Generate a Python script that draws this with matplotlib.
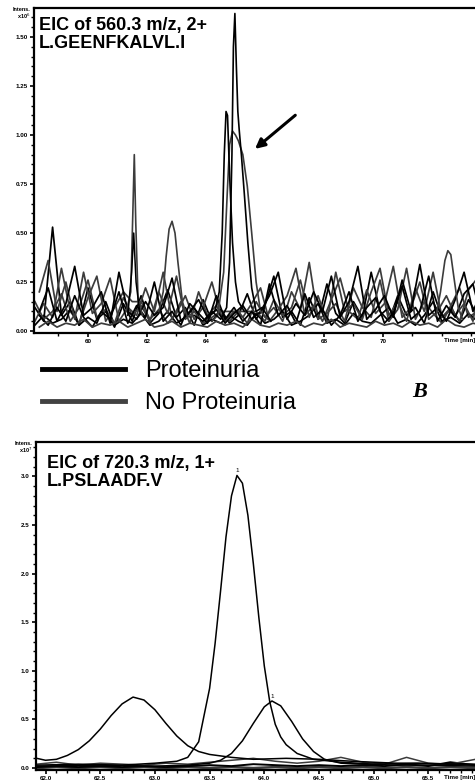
import matplotlib
matplotlib.use("Agg")
import matplotlib.pyplot as plt
from matplotlib.lines import Line2D
from matplotlib.ticker import MultipleLocator

tick_fs = 4.5
title_fs = 13
black = "#000000"
grey = "#3c3c3c"

# ---------- top panel: EIC 560.3 m/z ----------
grid_a = [58.2, 58.5, 58.8, 59.1, 59.4, 59.7, 60.0, 60.3, 60.6, 60.9,
          61.2, 61.5, 61.8, 62.1, 62.4, 62.7, 63.0, 63.3, 63.6, 63.9,
          64.2, 64.5, 64.8, 65.1, 65.4, 65.7, 66.0, 66.3, 66.6, 66.9,
          67.2, 67.5, 67.8, 68.1, 68.4, 68.7, 69.0, 69.3, 69.6, 69.9,
          70.2, 70.5, 70.8, 71.1, 71.4, 71.7, 72.0, 72.3, 72.6, 72.9, 73.2]
grid_b = [58.35, 58.65, 58.95, 59.25, 59.55, 59.85, 60.15, 60.45, 60.75, 61.05,
          61.35, 61.65, 61.95, 62.25, 62.55, 62.85, 63.15, 63.45, 63.75, 64.05,
          64.35, 64.65, 64.95, 65.25, 65.55, 65.85, 66.15, 66.45, 66.75, 67.05,
          67.35, 67.65, 67.95, 68.25, 68.55, 68.85, 69.15, 69.45, 69.75, 70.05,
          70.35, 70.65, 70.95, 71.25, 71.55, 71.85, 72.15, 72.45, 72.75, 73.05, 73.35]

n1 = [0.12, 0.05, 0.53, 0.08, 0.15, 0.03, 0.22, 0.06, 0.1, 0.02,
      0.14, 0.05, 0.18, 0.04, 0.09, 0.21, 0.07, 0.12, 0.03, 0.16,
      0.05, 0.11, 0.04, 0.08, 0.19, 0.06, 0.13, 0.28, 0.07, 0.1,
      0.03, 0.17, 0.06, 0.24, 0.09, 0.04, 0.15, 0.07, 0.3, 0.1,
      0.05, 0.18, 0.08, 0.12, 0.04, 0.2, 0.07, 0.11, 0.05, 0.16, 0.08]
n2 = [0.2, 0.36, 0.1, 0.25, 0.06, 0.3, 0.09, 0.14, 0.27, 0.05,
      0.12, 0.08, 0.22, 0.1, 0.3, 0.06, 0.15, 0.04, 0.2, 0.08,
      0.13, 0.05, 0.1, 0.07, 0.14, 0.22, 0.05, 0.11, 0.18, 0.32,
      0.08, 0.13, 0.05, 0.16, 0.27, 0.1, 0.06, 0.21, 0.09, 0.14,
      0.33, 0.07, 0.12, 0.25, 0.06, 0.1, 0.18, 0.08, 0.14, 0.05, 0.31]
n3 = [0.05, 0.14, 0.07, 0.32, 0.1, 0.04, 0.17, 0.28, 0.05, 0.12,
      0.2, 0.15, 0.15, 0.06, 0.11, 0.04, 0.09, 0.18, 0.06, 0.12,
      0.25, 0.08, 0.05, 0.1, 0.04, 0.15, 0.07, 0.12, 0.05, 0.2,
      0.11, 0.35, 0.06, 0.09, 0.14, 0.05, 0.22, 0.12, 0.07, 0.26,
      0.05, 0.11, 0.32, 0.06, 0.15, 0.09, 0.04, 0.13, 0.22, 0.07, 0.1]
n4 = [0.08, 0.03, 0.12, 0.05, 0.18, 0.07, 0.02, 0.1, 0.06, 0.2,
      0.04, 0.13, 0.07, 0.25, 0.05, 0.1, 0.03, 0.14, 0.09, 0.04,
      0.18, 0.06, 0.12, 0.05, 0.1, 0.03, 0.24, 0.08, 0.13, 0.04,
      0.19, 0.07, 0.11, 0.03, 0.08, 0.2, 0.05, 0.12, 0.17, 0.04,
      0.09, 0.23, 0.06, 0.1, 0.28, 0.05, 0.13, 0.07, 0.19, 0.24, 0.06]
n5 = [0.03, 0.08, 0.04, 0.06, 0.11, 0.03, 0.07, 0.04, 0.15, 0.03,
      0.06, 0.04, 0.09, 0.03, 0.05, 0.1, 0.04, 0.07, 0.12, 0.03,
      0.06, 0.04, 0.08, 0.05, 0.03, 0.09, 0.04, 0.06, 0.1, 0.03,
      0.05, 0.08, 0.14, 0.04, 0.06, 0.03, 0.09, 0.05, 0.04, 0.08,
      0.12, 0.04, 0.06, 0.03, 0.08, 0.15, 0.05, 0.07, 0.04, 0.09, 0.05]
n6 = [0.02, 0.05, 0.02, 0.04, 0.03, 0.06, 0.02, 0.04, 0.03, 0.05,
      0.02, 0.04, 0.06, 0.02, 0.03, 0.05, 0.02, 0.04, 0.03, 0.02,
      0.05, 0.03, 0.04, 0.02, 0.06, 0.03, 0.02, 0.04, 0.03, 0.05,
      0.02, 0.04, 0.03, 0.06, 0.02, 0.04, 0.03, 0.02, 0.05, 0.03,
      0.04, 0.02, 0.05, 0.03, 0.04, 0.02, 0.06, 0.03, 0.02, 0.04, 0.03]
n7 = [0.15, 0.06, 0.1, 0.19, 0.05, 0.12, 0.26, 0.07, 0.11, 0.04,
      0.17, 0.08, 0.13, 0.05, 0.2, 0.09, 0.28, 0.06, 0.1, 0.04,
      0.07, 0.1, 0.1, 0.1, 0.1, 0.1, 0.05, 0.16, 0.08, 0.12,
      0.26, 0.07, 0.18, 0.05, 0.3, 0.1, 0.14, 0.06, 0.2, 0.32,
      0.08, 0.15, 0.05, 0.22, 0.1, 0.3, 0.07, 0.12, 0.05, 0.21, 0.27]
n8 = [0.1, 0.22, 0.05, 0.14, 0.33, 0.08, 0.12, 0.2, 0.04, 0.3,
      0.1, 0.06, 0.15, 0.08, 0.12, 0.27, 0.05, 0.1, 0.16, 0.07,
      0.11, 0.04, 0.09, 0.13, 0.06, 0.1, 0.18, 0.3, 0.06, 0.14,
      0.08, 0.2, 0.1, 0.28, 0.07, 0.15, 0.33, 0.06, 0.11, 0.18,
      0.07, 0.26, 0.1, 0.34, 0.08, 0.12, 0.05, 0.16, 0.3, 0.1, 0.2]

# main peak traces around 65 min
p1_t = [63.6, 63.9, 64.2, 64.5, 64.7, 64.8, 64.88, 64.93, 64.98, 65.03,
        65.08, 65.13, 65.2, 65.3, 65.42, 65.55, 65.7, 65.9, 66.2]
p1_y = [0.08, 0.05, 0.1, 0.06, 0.12, 0.35, 0.9, 1.45, 1.62, 1.35,
        1.12, 1.02, 0.9, 0.7, 0.45, 0.22, 0.1, 0.12, 0.05]
p2_t = [64.0, 64.3, 64.45, 64.55, 64.62, 64.68, 64.73, 64.8, 64.9, 65.0, 65.1, 65.3]
p2_y = [0.06, 0.1, 0.2, 0.5, 0.9, 1.12, 1.1, 0.8, 0.45, 0.25, 0.15, 0.1]
p3_t = [64.2, 64.4, 64.6, 64.72, 64.8, 64.9, 65.0, 65.1, 65.25, 65.4, 65.55, 65.7, 65.85, 66.1]
p3_y = [0.05, 0.08, 0.3, 0.7, 0.95, 1.02, 1.0, 0.97, 0.9, 0.74, 0.5, 0.25, 0.1, 0.06]

# isolated spikes
sa_t = [61.3, 61.45, 61.52, 61.57, 61.62, 61.7, 61.85]
sa_y = [0.1, 0.2, 0.6, 0.9, 0.55, 0.15, 0.08]
sb_t = [61.35, 61.48, 61.55, 61.63, 61.75]
sb_y = [0.08, 0.3, 0.5, 0.25, 0.1]
sc_t = [62.4, 62.55, 62.65, 62.75, 62.85, 62.95, 63.05, 63.2, 63.35]
sc_y = [0.1, 0.2, 0.38, 0.52, 0.56, 0.5, 0.35, 0.15, 0.08]
sd_t = [71.8, 71.95, 72.1, 72.2, 72.3, 72.4, 72.55, 72.7]
sd_y = [0.08, 0.2, 0.36, 0.41, 0.39, 0.28, 0.12, 0.06]

top_ticks = [60, 62, 64, 66, 68, 70]
top_yticks = [0.0, 0.25, 0.5, 0.75, 1.0, 1.25, 1.5]

# ---------- bottom panel: EIC 720.3 m/z ----------
big_t = [61.92, 62.3, 62.7, 63.0, 63.2, 63.3, 63.4, 63.5, 63.55, 63.6,
         63.65, 63.7, 63.75, 63.8, 63.85, 63.9, 63.95, 64.0, 64.05, 64.1,
         64.15, 64.2, 64.3, 64.45, 64.7, 65.0, 65.4, 65.93]
big_y = [0.03, 0.04, 0.03, 0.05, 0.07, 0.11, 0.27, 0.82, 1.28, 1.82,
         2.38, 2.8, 3.01, 2.93, 2.6, 2.1, 1.55, 1.05, 0.68, 0.45,
         0.32, 0.24, 0.15, 0.09, 0.06, 0.04, 0.05, 0.03]
left_t = [61.92, 62.0, 62.1, 62.2, 62.3, 62.4, 62.5, 62.6, 62.7, 62.8,
          62.9, 63.0, 63.1, 63.2, 63.3, 63.4, 63.5, 63.7, 63.9, 64.2,
          64.5, 64.8, 65.2, 65.93]
left_y = [0.1, 0.08, 0.09, 0.13, 0.19, 0.28, 0.4, 0.54, 0.66, 0.73,
          0.7, 0.6, 0.46, 0.33, 0.23, 0.17, 0.14, 0.11, 0.09, 0.1,
          0.09, 0.07, 0.05, 0.04]
right_t = [61.92, 62.5, 63.0, 63.3, 63.5, 63.6, 63.7, 63.8, 63.9, 64.0,
           64.07, 64.15, 64.25, 64.35, 64.45, 64.55, 64.7, 64.9, 65.2, 65.5, 65.93]
right_y = [0.02, 0.03, 0.02, 0.03, 0.05, 0.08, 0.15, 0.28, 0.46, 0.63,
           0.69, 0.64, 0.48, 0.3, 0.17, 0.09, 0.05, 0.04, 0.03, 0.03, 0.02]
base_t = [61.92, 62.1, 62.3, 62.5, 62.7, 62.9, 63.1, 63.3, 63.5, 63.7,
          63.9, 64.1, 64.3, 64.5, 64.7, 64.9, 65.1, 65.3, 65.5, 65.7, 65.93]
base1 = [0.04, 0.06, 0.03, 0.05, 0.04, 0.03, 0.05, 0.04, 0.06, 0.08,
         0.1, 0.07, 0.05, 0.07, 0.11, 0.06, 0.04, 0.11, 0.05, 0.04, 0.09]
base2 = [0.01, 0.02, 0.01, 0.02, 0.01, 0.02, 0.01, 0.02, 0.03, 0.02,
         0.04, 0.03, 0.02, 0.03, 0.02, 0.03, 0.02, 0.04, 0.02, 0.06, 0.03]
base3 = [0.0, 0.01, 0.0, 0.01, 0.0, 0.01, 0.0, 0.01, 0.0, 0.01,
         0.0, 0.01, 0.0, 0.01, 0.0, 0.01, 0.0, 0.01, 0.0, 0.01, 0.0]

bot_ticks = [62.0, 62.5, 63.0, 63.5, 64.0, 64.5, 65.0, 65.5]
bot_yticks = [0.0, 0.5, 1.0, 1.5, 2.0, 2.5, 3.0]


fig = plt.figure(figsize=(4.75, 7.84), dpi=100)
plt.rcParams['font.family'] = ['Liberation Sans', 'DejaVu Sans']

ax1 = fig.add_axes([34/475, 1 - 333/784, 441/475, 325/784])
ax2 = fig.add_axes([36/475, 1 - 770/784, 439/475, 328/784])


def style_axis(ax, xt, xfmt, yt, yfmt, xminor, yminor, exp):
    for s in ["left", "bottom", "top"]:
        ax.spines[s].set_linewidth(1.6)
    ax.spines["right"].set_visible(False)
    ax.set_xticks(xt)
    ax.set_xticklabels([xfmt.format(v) for v in xt], fontsize=tick_fs, fontweight="bold")
    ax.set_yticks(yt)
    ax.set_yticklabels([yfmt.format(v) for v in yt], fontsize=tick_fs, fontweight="bold")
    ax.xaxis.set_minor_locator(MultipleLocator(xminor))
    ax.yaxis.set_minor_locator(MultipleLocator(yminor))
    ax.tick_params(which="major", length=3, width=1.2, pad=1.5)
    ax.tick_params(which="minor", length=2, width=1.0)
    ax.text(1.0, -0.016, "Time [min]", transform=ax.transAxes, ha="right", va="top",
            fontsize=tick_fs, fontweight="bold")
    ax.text(-0.008, 1.004, "Intens.\nx10$^{%d}$" % exp, transform=ax.transAxes,
            ha="right", va="top", fontsize=tick_fs - 0.5, fontweight="bold", linespacing=1.0)


# top traces
noise_a = [n1, n3, n5, n7]
noise_b = [n2, n4, n6, n8]
for i, ys in enumerate(noise_a):
    ax1.plot(grid_a, ys, color=black if i % 2 == 0 else grey, lw=1.25)
for i, ys in enumerate(noise_b):
    ax1.plot(grid_b, ys, color=grey if i % 2 == 0 else black, lw=1.25)
ax1.plot(p3_t, p3_y, color=grey, lw=1.2)
ax1.plot(p2_t, p2_y, color=black, lw=1.2)
ax1.plot(p1_t, p1_y, color=black, lw=1.2)
ax1.plot(sa_t, sa_y, color=grey, lw=1.2)
ax1.plot(sb_t, sb_y, color=black, lw=1.1)
ax1.plot(sc_t, sc_y, color=grey, lw=1.2)
ax1.plot(sd_t, sd_y, color=grey, lw=1.2)

ax1.set_xlim(58.17, 73.12)
ax1.set_ylim(-0.01, 1.648)
style_axis(ax1, top_ticks, "{:d}", top_yticks, "{:.2f}", 1, 0.05, 6)
ax1.text(0.011, 0.972, "EIC of 560.3 m/z, 2+\nL.GEENFKALVL.I", transform=ax1.transAxes,
         ha="left", va="top", fontsize=title_fs, fontweight="bold", linespacing=1.1)
ax1.annotate("", xy=(65.59, 0.92), xytext=(67.1, 1.11),
             arrowprops=dict(arrowstyle="-|>", lw=2.2, color="black", mutation_scale=14))

# bottom traces
ax2.plot(base_t, base3, color=grey, lw=1.8)
ax2.plot(base_t, base2, color=black, lw=1.4)
ax2.plot(base_t, base1, color=grey, lw=1.1)
ax2.plot(left_t, left_y, color=black, lw=1.1)
ax2.plot(right_t, right_y, color=black, lw=1.1)
ax2.plot(big_t, big_y, color=black, lw=1.1)
ax2.text(63.75, 3.04, "1", ha="center", va="bottom", fontsize=tick_fs)
ax2.text(64.07, 0.71, "1", ha="center", va="bottom", fontsize=tick_fs)

ax2.set_xlim(61.913, 65.926)
ax2.set_ylim(-0.02, 3.354)
style_axis(ax2, bot_ticks, "{:.1f}", bot_yticks, "{:.1f}", 0.1, 0.1, 7)
ax2.text(0.025, 0.96, "EIC of 720.3 m/z, 1+\nL.PSLAADF.V", transform=ax2.transAxes,
         ha="left", va="top", fontsize=title_fs, fontweight="bold", linespacing=1.1)

# legend between panels
handles = [Line2D([], [], color="#000000", lw=3.5),
           Line2D([], [], color="#424242", lw=3.5)]
fig.legend(handles, ["Proteinuria", "No Proteinuria"], loc="upper left",
           bbox_to_anchor=(42/475, 1 - 360/784), frameon=False, fontsize=17,
           handlelength=3.5, handletextpad=0.85, labelspacing=0.42,
           borderpad=0, borderaxespad=0)
fig.text(420/475, 1 - 392/784, "B", family="Liberation Serif", style="italic",
         fontweight="bold", fontsize=16, ha="center", va="center")

fig.savefig("out.png", dpi=100)
